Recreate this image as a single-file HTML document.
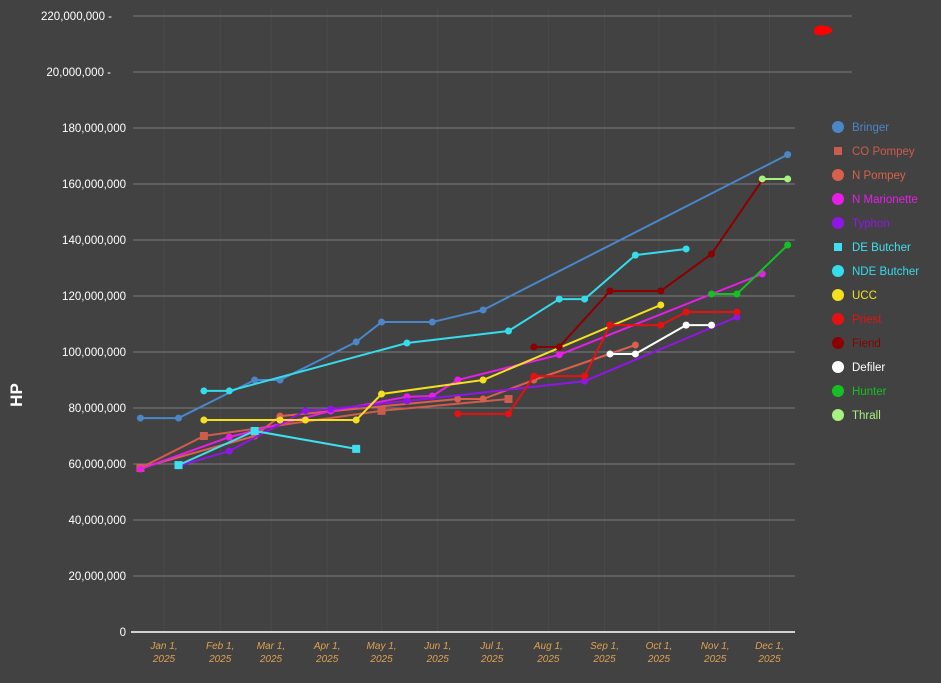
<!DOCTYPE html>
<html><head><meta charset="utf-8"><style>
html,body{margin:0;padding:0;background:#424242;}
svg{display:block;font-family:"Liberation Sans",sans-serif;}
</style></head><body>
<svg id="chart" width="941" height="683">
<rect width="941" height="683" fill="#424242"/>
<g id="grid"></g>
<g id="yaxis"></g>
<g id="xaxis"></g>
<g id="series"></g>
<g id="legend"></g>
<text x="22" y="395" transform="rotate(-90 22 395)" text-anchor="middle" fill="#fff" font-size="17" font-weight="bold">HP</text>
<path d="M815,28 C817,24 829,25 832,29 C834,33 825,36 818,35 C813,34 813,31 815,28 Z" fill="#ff0000"/>
</svg>
<script>
const dayOffsets=[-13,8,22,36,50,64,78,92,106,120,134,148,162,176,190,204,218,232,246,260,274,288,302,316,330,344];
const monthLabels=["Jan 1,","Feb 1,","Mar 1,","Apr 1,","May 1,","Jun 1,","Jul 1,","Aug 1,","Sep 1,","Oct 1,","Nov 1,","Dec 1,"];
const monthDays=[0,31,59,90,120,151,181,212,243,273,304,334];
const yTickValues=[0,20,40,60,80,100,120,140,160,180,200,220];
const yTickLabels=["0","20,000,000","40,000,000","60,000,000","80,000,000","100,000,000","120,000,000","140,000,000","160,000,000","180,000,000","20,000,000 -","220,000,000  -"];
const seriesNames=["Bringer","CO Pompey","N Pompey","N Marionette","Typhon","DE Butcher","NDE Butcher","UCC","Priest","Fiend","Defiler","Hunter","Thrall"];
const seriesColors=["#4a86c8","#cd5c4c","#d9604c","#e81ee8","#9016e8","#3ee0f0","#35dcec","#f5e020","#e81010","#8b0000","#ffffff","#14c024","#a8f080"];
const seriesShapes=["circle","square","circle","circle","circle","square","circle","circle","circle","circle","circle","circle","circle"];
const bringerIdx=[0,1,4,5,8,9,11,13,25];
const bringerVal=[76.4,76.4,90,90,103.6,110.7,110.7,115,170.5];
const coPompeyIdx=[0,2,9,14];
const coPompeyVal=[58.6,70,79,83.2];
const nPompeyIdx=[0,4,5,12,13,15,19];
const nPompeyVal=[58.6,70,77.1,83.2,83.2,90,102.5];
const nMarionetteIdx=[0,3,7,10,11,12,16,24];
const nMarionetteVal=[58.2,69.6,78.9,84,84.3,90,99,127.9];
const typhonIdx=[1,3,6,7,10,17,23];
const typhonVal=[59.3,64.6,79,79.6,82.5,89.6,112.5];
const deButcherIdx=[1,4,8];
const deButcherVal=[59.6,71.8,65.4];
const ndeButcherIdx=[2,3,10,14,16,17,19,21];
const ndeButcherVal=[86.1,86.1,103.2,107.5,118.9,118.9,134.6,136.8];
const uccIdx=[2,5,6,8,9,13,20];
const uccVal=[75.7,75.7,75.7,75.7,85,90,116.8];
const priestIdx=[12,14,15,17,18,20,21,23];
const priestVal=[77.9,77.9,91.4,91.4,109.6,109.6,114.3,114.3];
const fiendIdx=[15,16,18,20,22,24];
const fiendVal=[101.8,101.8,121.8,121.8,135,161.4];
const defilerIdx=[18,19,21,22];
const defilerVal=[99.3,99.3,109.6,109.6];
const hunterIdx=[22,23,25];
const hunterVal=[120.7,120.7,138.2];
const thrallIdx=[24,25];
const thrallVal=[161.8,161.8];
const allIdx=[bringerIdx,coPompeyIdx,nPompeyIdx,nMarionetteIdx,typhonIdx,deButcherIdx,ndeButcherIdx,uccIdx,priestIdx,fiendIdx,defilerIdx,hunterIdx,thrallIdx];
const allVal=[bringerVal,coPompeyVal,nPompeyVal,nMarionetteVal,typhonVal,deButcherVal,ndeButcherVal,uccVal,priestVal,fiendVal,defilerVal,hunterVal,thrallVal];

const NS="http://www.w3.org/2000/svg";
function xDay(d){return 164+d*1.813;}
function yVal(v){return 632-v*2.8;}
function mk(tag,attrs,parent){const e=document.createElementNS(NS,tag);for(const k in attrs)e.setAttribute(k,attrs[k]);parent.appendChild(e);return e;}
const grid=document.getElementById('grid'),yaxis=document.getElementById('yaxis'),xaxis=document.getElementById('xaxis'),ser=document.getElementById('series'),leg=document.getElementById('legend');

monthDays.forEach((d,i)=>{
  const l=mk('line',{x1:xDay(d),x2:xDay(d),y1:8,y2:632,stroke:'#4a4a4a','stroke-width':1},grid);
  
  
  const t=mk('text',{x:xDay(d),y:649,'text-anchor':'middle',fill:'#e0a050','font-size':10,'font-style':'italic'},xaxis);
  
  
  const s1=mk('tspan',{x:xDay(d),dy:0},t);s1.textContent=monthLabels[i];
  const s2=mk('tspan',{x:xDay(d),dy:13},t);s2.textContent='2025';
});
yTickValues.forEach((v,i)=>{
  const y=yVal(v);
  if(v>0){
    const l=mk('line',{x1:133,x2:v>=200?852:795,y1:y,y2:y,stroke:'#7c7c7c','stroke-width':1},grid);
    
    
  }
  const t=mk('text',{x:v>=200?(v===220?112:111):126,y:y+4,'text-anchor':'end',fill:'#fff','font-size':11.5},yaxis);
  
  
  t.textContent=yTickLabels[i];
});
const ax=mk('line',{x1:131,x2:795,y1:632,y2:632,stroke:'#fff','stroke-width':1.5},xaxis);



seriesNames.forEach((name,s)=>{
  const g=mk('g',{},ser);
  
  
  const pts=allIdx[s].map((ix,j)=>[xDay(dayOffsets[ix]),yVal(allVal[s][j])]);
  const p=mk('polyline',{points:pts.map(p=>p.join(',')).join(' '),fill:'none',stroke:seriesColors[s],'stroke-width':2},g);
  
  
  pts.forEach(pt=>{
    let m;
    if(seriesShapes[s]==='square') m=mk('rect',{x:pt[0]-4,y:pt[1]-4,width:8,height:8,fill:seriesColors[s]},g);
    else m=mk('circle',{cx:pt[0],cy:pt[1],r:3.5,fill:seriesColors[s]},g);
    
    
  });
  const ly=127+s*24;
  const le=mk('g',{},leg);
  
  
  if(seriesShapes[s]==='square') mk('rect',{x:834,y:ly-4,width:8,height:8,fill:seriesColors[s]},le);
  else mk('circle',{cx:838,cy:ly,r:6,fill:seriesColors[s]},le);
  const t=mk('text',{x:852,y:ly+4,fill:seriesColors[s],'font-size':11.5},le);
  t.textContent=name;
});
</script>
</body></html>
